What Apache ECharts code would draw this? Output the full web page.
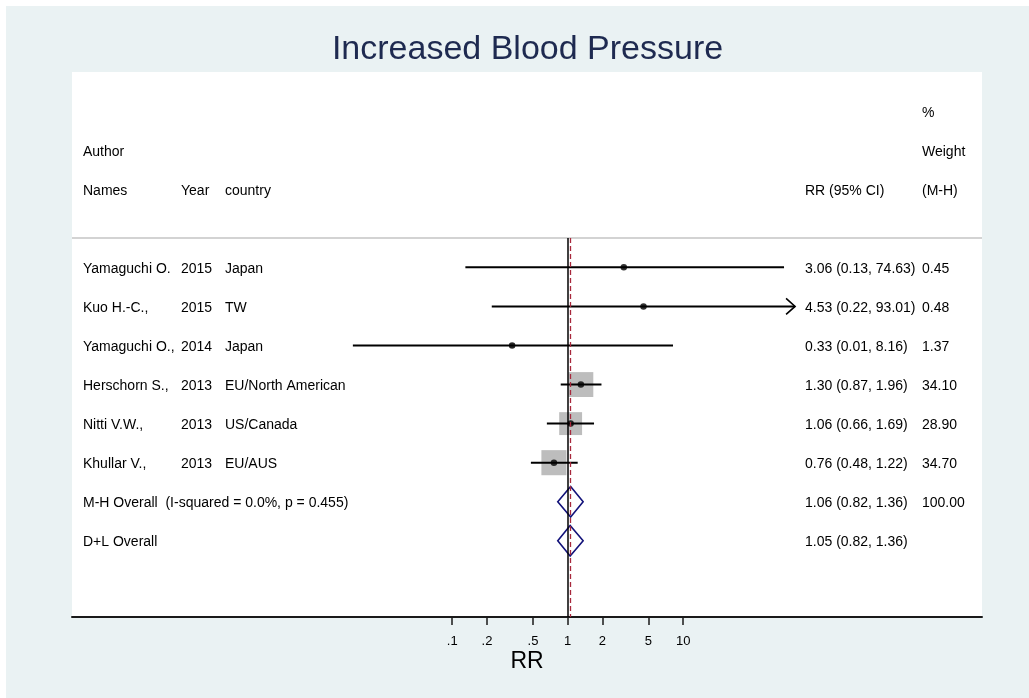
<!DOCTYPE html>
<html>
<head>
<meta charset="utf-8">
<script src="https://cdn.jsdelivr.net/npm/echarts@6/dist/echarts.min.js"></script>
<style>
html,body{margin:0;padding:0;background:#fff;}
#bg{position:absolute;left:6px;top:6px;width:1023px;height:692px;background:#eaf2f3;}
#c{position:absolute;left:0;top:0;width:1029px;height:698px;}
</style>
</head>
<body>
<div id="bg"></div>
<div id="c"></div>
<script>
// ---------------- data ----------------
const chartTitle = 'Increased Blood Pressure';
const axisTitle = 'RR';
const authors = ['Yamaguchi O.', 'Kuo H.-C.,', 'Yamaguchi O.,', 'Herschorn S.,', 'Nitti V.W.,', 'Khullar V.,'];
const years = ['2015', '2015', '2014', '2013', '2013', '2013'];
const countries = ['Japan', 'TW', 'Japan', 'EU/North American', 'US/Canada', 'EU/AUS'];
const rr = [3.06, 4.53, 0.33, 1.30, 1.06, 0.76];
const ciLow = [0.13, 0.22, 0.01, 0.87, 0.66, 0.48];
const ciHigh = [74.63, 93.01, 8.16, 1.96, 1.69, 1.22];
const weights = [0.45, 0.48, 1.37, 34.10, 28.90, 34.70];
const pooledLabels = ['M-H Overall  (I-squared = 0.0%, p = 0.455)', 'D+L Overall'];
const pooledRR = [1.06, 1.05];
const pooledLow = [0.82, 0.82];
const pooledHigh = [1.36, 1.36];
const pooledWeights = ['100.00', ''];
const headerPercent = '%';
const headerAuthor = ['Author', 'Names'];
const headerYear = 'Year';
const headerCountry = 'country';
const headerRR = 'RR (95% CI)';
const headerWeight = ['Weight', '(M-H)'];
const tickValues = [0.1, 0.2, 0.5, 1, 2, 5, 10];
const tickLabels = ['.1', '.2', '.5', '1', '2', '5', '10'];
const nullValue = 1;
const ciDisplayMin = 0.0138;   // plot range of the CI lines
const ciDisplayMax = 93.01;

// ---------------- layout / style ----------------
const FONT = '"Liberation Sans", Arial, Helvetica, sans-serif';
const colX = {author: 83, year: 181, country: 225, rr: 805, weight: 922};
const TEXT_DY = 1.6;
const X_MIN = -4.292, X_MAX = 3.587;
const Y_MIN = -5, Y_MAX = 8.95;
const SEP_Y = -0.75;
const BOX_K = 4.26;
const DIAMOND_H = 15.3;

const lg = v => Math.log10(v);
const f2 = v => v.toFixed(2);

// table rows
const tableRows = [];
tableRows.push({row: -4, weight: headerPercent});
tableRows.push({row: -3, author: headerAuthor[0], weight: headerWeight[0]});
tableRows.push({row: -2, author: headerAuthor[1], year: headerYear, country: headerCountry, rr: headerRR, weight: headerWeight[1]});
authors.forEach((a, i) => {
  tableRows.push({row: i, author: a, year: years[i], country: countries[i],
    rr: `${f2(rr[i])} (${f2(ciLow[i])}, ${f2(ciHigh[i])})`, weight: f2(weights[i])});
});
pooledLabels.forEach((p, j) => {
  tableRows.push({row: authors.length + j, author: p,
    rr: `${f2(pooledRR[j])} (${f2(pooledLow[j])}, ${f2(pooledHigh[j])})`, weight: pooledWeights[j]});
});

const studyData = rr.map((v, i) => [lg(v), i, ciLow[i], ciHigh[i], weights[i]]);
const pooledData = pooledRR.map((v, j) => [lg(v), authors.length + j, pooledLow[j], pooledHigh[j]]);

function renderText(params, api) {
  const r = tableRows[params.dataIndex];
  const y = api.coord([0, r.row])[1] + TEXT_DY;
  const children = [];
  Object.keys(colX).forEach(k => {
    if (r[k]) children.push({type: 'text', style: {x: colX[k], y: y, text: r[k], fill: '#000',
      font: '14px ' + FONT, align: 'left', verticalAlign: 'middle'}});
  });
  return {type: 'group', children};
}

function renderBox(params, api) {
  const c = api.coord([api.value(0), api.value(1)]);
  const s = BOX_K * Math.sqrt(api.value(4));
  return {type: 'rect', shape: {x: c[0] - s / 2, y: c[1] - s / 2, width: s, height: s},
    style: {fill: '#bdbdbd'}};
}

function renderCI(params, api) {
  const row = api.value(1);
  const lo = api.value(2), hi = api.value(3);
  const y = api.coord([0, row])[1];
  const xl = api.coord([lg(Math.max(lo, ciDisplayMin)), row])[0];
  const xr = api.coord([lg(Math.min(hi, ciDisplayMax)), row])[0];
  const children = [{type: 'line', shape: {x1: xl, y1: y, x2: xr, y2: y},
    style: {stroke: '#000', lineWidth: 2}}];
  if (hi >= ciDisplayMax) {
    children.push({type: 'polyline', shape: {points: [[xr - 9, y - 8], [xr, y], [xr - 9, y + 8]]},
      style: {stroke: '#000', lineWidth: 1.6, fill: null}});
  }
  return {type: 'group', children};
}

function renderDiamond(params, api) {
  const row = api.value(1);
  const c = api.coord([api.value(0), row]);
  const xl = api.coord([lg(api.value(2)), row])[0];
  const xr = api.coord([lg(api.value(3)), row])[0];
  return {type: 'polygon', shape: {points: [[xl, c[1]], [c[0], c[1] - DIAMOND_H], [xr, c[1]], [c[0], c[1] + DIAMOND_H]]},
    style: {stroke: '#12127a', lineWidth: 1.6, fill: null}};
}

const tickPos = tickValues.map(lg);
function tickLabel(v) {
  for (let i = 0; i < tickPos.length; i++) if (Math.abs(tickPos[i] - v) < 1e-6) return tickLabels[i];
  return '';
}

const chart = echarts.init(document.getElementById('c'));
chart.setOption({
  backgroundColor: 'transparent',
  animation: false,
  graphic: [{
    type: 'text', x: 527.5, y: 50,
    style: {text: chartTitle, font: '34px ' + FONT, fill: '#1e2a50', align: 'center', verticalAlign: 'middle'}
  }],
  grid: {left: 72, right: 47, top: 72, bottom: 81, show: true, backgroundColor: '#fff', borderWidth: 0},
  xAxis: {
    type: 'value', min: X_MIN, max: X_MAX,
    name: axisTitle, nameLocation: 'middle', nameGap: 33, nameMoveOverlap: false,
    nameTextStyle: {fontFamily: FONT, fontSize: 23, color: '#000'},
    axisLine: {onZero: false, lineStyle: {color: '#1a1a1a', width: 2}},
    axisTick: {show: true, customValues: tickPos, length: 8, lineStyle: {color: '#1a1a1a', width: 1.5}},
    axisLabel: {customValues: tickPos, formatter: tickLabel, margin: 18, fontFamily: FONT, fontSize: 13, color: '#000'},
    splitLine: {show: false}
  },
  yAxis: {type: 'value', inverse: true, min: Y_MIN, max: Y_MAX, show: false},
  series: [
    {type: 'custom', renderItem: renderText, data: tableRows.map(r => [0, r.row]), silent: true, z: 5},
    {type: 'custom', renderItem: renderBox, data: studyData, silent: true, z: 2},
    {
      type: 'scatter', data: [], silent: true, z: 1,
      markLine: {
        silent: true, symbol: 'none', animation: false, label: {show: false},
        data: [
          [{coord: [X_MIN, SEP_Y], lineStyle: {color: '#c4c4c4', width: 1.5, type: 'solid'}}, {coord: [X_MAX, SEP_Y]}],
          [{coord: [lg(nullValue), SEP_Y], lineStyle: {color: '#000', width: 1.5, type: 'solid'}}, {coord: [lg(nullValue), Y_MAX]}],
          [{coord: [lg(pooledRR[0]), SEP_Y], lineStyle: {color: '#a8283c', width: 1.3, type: [5, 3]}}, {coord: [lg(pooledRR[0]), Y_MAX]}]
        ]
      }
    },
    {type: 'custom', renderItem: renderCI, data: studyData, silent: true, z: 3},
    {type: 'scatter', data: studyData.map(d => [d[0], d[1]]), symbol: 'circle', symbolSize: 6.5,
      itemStyle: {color: '#000'}, silent: true, z: 4},
    {type: 'custom', renderItem: renderDiamond, data: pooledData, silent: true, z: 4}
  ]
});
</script>
</body>
</html>
